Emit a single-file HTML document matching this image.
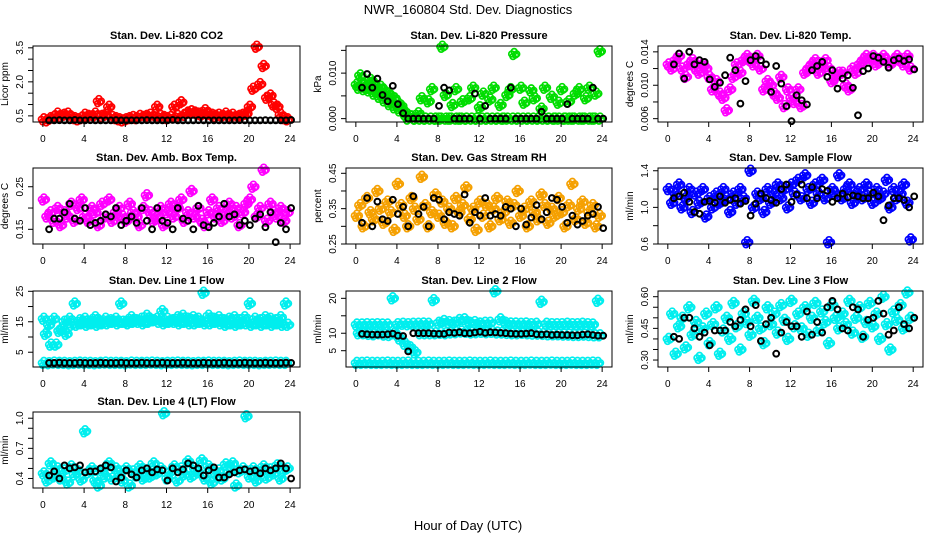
<!DOCTYPE html>
<html><head><meta charset="utf-8"><style>
body{margin:0;background:#fff;}
svg{display:block;font-family:"Liberation Sans",sans-serif;}
</style></head><body>
<svg id="chart" width="936" height="540" viewBox="0 0 936 540">
<rect width="936" height="540" fill="#fff"/>
<text x="468" y="14" text-anchor="middle" font-size="13">NWR_160804  Std. Dev. Diagnostics</text>
<text x="468" y="530" text-anchor="middle" font-size="13">Hour of Day (UTC)</text>
</svg>
<script>
const xTicks=[0,4,8,12,16,20,24];
// CO2
const co2Main=[.35,.3,.4,.45,.6,.5,.55,.6,.45,.4,.35,.4,.55,.5,.45,.6,1.15,.5,.55,.9,.45,.4,.35,.3,.35,.4,.45,.4,.5,.45,.5,.55,.45,.9,.5,.45,.4,.45,.9,.5,1.1,.55,.65,.7,.65,.6,.55,.75,.6,.55,.5,.55,.5,.6,.5,.55,.45,.5,.55,.6,.9,1.7,3.55,1.9,2.7,1.3,1.4,1.0,.9,.55,.4,.35];
const co2Ref=[.3,.3,.31,.3,.3,.32,.3,.3,.31,.3,.3,.3,.3,.31,.3,.3,.3,.3,.3,.31,.3,.3,.3,.3,.32,.3,.3,.3,.3,.31,.3,.3,.3,.3,.3,.3,.3,.31,.3,.3,.3,.3,.31,.3,.3,.3,.3,.32];
// Pressure
const presMain=[.0075,.0095,.0072,.008,.0085,.0078,.0068,.007,.0062,.0055,.005,.0045,.0035,.0028,.0015,.0,.0005,.0,.0012,.0045,.0,.0038,.0065,.0,.0,.0158,.0052,.0,.003,.0065,.0,.0038,.0,.0045,.0068,.0,.0025,.0055,.0,.0042,.0068,.0,.003,.0,.0052,.0065,.0142,.0,.0068,.0035,.0,.0062,.0045,.0,.0022,.0068,.0,.0048,.0,.0035,.0065,.0,.0038,.0,.0055,.0065,.0,.0045,.0068,.0,.0055,.0148];
const presBase=[.0068,.0065,.0062,.0055,.0048,.004,.0032,.0025,.0018,.001,.0005,.0,.0,.0,.0,.0,.0,.0,.0,.0,.0,.0,.0,.0,.0,.0,.0,.0,.0,.0,.0,.0,.0,.0,.0,.0,.0,.0,.0,.0,.0,.0,.0,.0,.0,.0,.0,.0];
const presRef=[.0068,.0098,.0068,.0088,.0052,.0038,.0072,.0032,.0012,.0,.0,.0,.0,.0,.0,.0028,.0068,.0062,.0,.0,.0,.0,.0055,.0,.0028,.0,.0,.0,.0,.0068,.0,.0,.0,.0,.0,.0015,.0,.0,.0,.0,.0032,.0,.0,.0,.0,.0068,.0,.0];
// Li-820 temp
const ltMain=[.0125,.012,.013,.0135,.012,.011,.0125,.013,.012,.0115,.0125,.012,.011,.0095,.0105,.009,.0085,.007,.0095,.011,.0125,.0115,.013,.0135,.013,.0125,.0135,.012,.0095,.0105,.01,.009,.0085,.011,.0075,.0095,.0085,.008,.0095,.0075,.0115,.012,.0125,.013,.0115,.0125,.013,.012,.0105,.011,.0115,.0115,.01,.0095,.012,.0115,.0125,.013,.0135,.013,.0135,.0125,.013,.0135,.013,.0125,.013,.0135,.013,.0125,.0135,.012];
const ltRef=[.0125,.0138,.0108,.014,.0125,.013,.0128,.0107,.0098,.0103,.0112,.0133,.0118,.0078,.0105,.013,.0135,.013,.0125,.0092,.0123,.0102,.0075,.0057,.0088,.0082,.0077,.0118,.0123,.0128,.011,.0118,.0096,.0108,.0112,.0097,.0064,.0117,.012,.0135,.0133,.0128,.0121,.013,.0132,.0129,.0131,.0119];
// Amb box temp
const abMain=[.22,.18,.19,.17,.2,.16,.19,.18,.21,.17,.2,.22,.18,.17,.2,.19,.16,.21,.18,.22,.17,.19,.2,.18,.17,.21,.19,.18,.16,.2,.23,.19,.17,.18,.2,.16,.19,.21,.18,.2,.22,.17,.19,.24,.18,.2,.17,.16,.19,.22,.18,.2,.17,.19,.21,.18,.2,.16,.19,.21,.22,.25,.18,.2,.29,.17,.21,.19,.18,.2,.17,.19];
const abRef=[.15,.175,.175,.19,.21,.175,.17,.2,.16,.165,.17,.185,.18,.2,.16,.17,.18,.165,.2,.17,.15,.2,.17,.165,.15,.2,.175,.17,.15,.205,.16,.155,.165,.18,.21,.18,.185,.16,.17,.16,.175,.185,.155,.19,.12,.165,.15,.2];
// RH
const rhMain=[.33,.36,.3,.38,.34,.32,.4,.35,.31,.37,.34,.29,.42,.36,.33,.3,.38,.35,.32,.44,.36,.3,.34,.39,.33,.37,.31,.35,.3,.38,.34,.36,.41,.32,.35,.29,.37,.33,.36,.3,.35,.38,.32,.34,.37,.31,.36,.4,.33,.35,.3,.37,.34,.32,.39,.36,.31,.35,.33,.38,.34,.3,.36,.42,.32,.35,.37,.31,.34,.36,.3,.33];
const rhRef=[.31,.38,.3,.37,.32,.315,.375,.335,.355,.3,.385,.335,.355,.3,.38,.375,.32,.34,.335,.33,.39,.31,.34,.33,.38,.33,.335,.33,.355,.35,.3,.35,.305,.325,.36,.32,.34,.38,.375,.355,.31,.33,.305,.315,.33,.335,.355,.295];
// Sample flow
const sfMain=[1.2,1.05,1.15,1.25,1.0,1.1,1.2,.95,1.15,1.05,1.2,.9,1.1,1.0,1.15,1.05,1.2,1.1,.95,1.15,1.05,1.2,1.1,.62,1.4,1.0,1.15,1.1,.95,1.2,1.05,1.15,1.25,1.1,1.2,1.0,1.25,1.15,1.3,1.1,1.35,1.2,1.05,1.25,1.15,1.3,1.1,.62,1.2,1.15,1.35,1.1,1.2,1.25,1.05,1.15,1.2,1.1,1.25,1.15,1.05,1.2,1.1,1.15,1.3,1.0,1.2,1.1,1.15,1.25,1.05,.65];
const sfRef=[1.1,1.12,1.16,1.06,.95,.93,1.06,1.07,1.05,1.12,1.05,1.08,1.1,1.04,1.07,.91,1.04,1.15,1.1,1.08,1.05,1.2,1.25,1.06,1.14,1.25,1.1,1.22,1.1,1.2,1.18,1.06,1.1,1.15,1.11,1.13,1.12,1.1,1.1,1.16,1.12,.86,1.02,1.1,1.1,1.08,1.0,1.12];
// Line 1
const l1High=[16,14,16,12,15,16,21,15.5,16,15,16.5,15,16,15.5,16,21,15,16.5,15.5,16,17,15.5,16,18.5,16,15.5,16.5,17,16,16.5,16,24.5,17,16,16.5,15.5,16,16.5,15.5,16.5,21,16,15.5,16.5,16,15.5,16.5,21];
const l1Low=[11,7.5,7.5,12.5,11,14,14,14.5,14,14.5,14,14.5,14.5,15,14.5,15,14.5,15,15,14.5,15,15.5,15,14.5,15,15,14.5,15,14.5,14.5,15,14.5,14.5,15,14.5,14,14.5,14,14.5,14.5,14,14.5,14,14.5,14,14.5,14,14];
const l1Base=[1.5,1.4,1.6,1.5,1.5,1.4,1.5,1.6,1.5,1.5,1.4,1.5,1.6,1.5,1.5,1.5,1.4,1.6,1.5,1.5,1.5,1.6,1.5,1.4,1.5,1.5,1.6,1.5,1.5,1.4,1.5,1.5,1.6,1.5,1.5,1.5,1.4,1.5,1.6,1.5,1.5,1.5,1.4,1.5,1.5,1.6,1.5,1.5];
const l1Ref=[1.5,1.5,1.6,1.5,1.5,1.5,1.6,1.5,1.5,1.5,1.6,1.5,1.5,1.5,1.6,1.5,1.5,1.5,1.6,1.5,1.5,1.5,1.6,1.5,1.5,1.5,1.6,1.5,1.5,1.5,1.6,1.5,1.5,1.5,1.6,1.5,1.5,1.5,1.6,1.5,1.5,1.5,1.6,1.5,1.5,1.5,1.6,1.5];
// Line 2
const l2High=[12.5,12.5,12.6,12.5,12.6,12.5,12.5,20,12.6,12.7,12.6,12.7,12.7,12.8,12.7,19.5,13,13.5,13.2,13,13.8,14,13,13.2,12.8,13,13,22,14,13,12.8,12.8,12.7,12.8,12.6,12.7,19,12.7,12.6,12.6,12.6,12.7,12.6,12.6,12.7,12.6,12.5,19.3];
const l2Mid=[10,10,9.8,9.7,10,9.6,9.5,10,8.5,7,6,4.5,10,10,10,10,10.1,10,10.2,10.3,10.5,10.4,10.2,10.3,10.4,10.3,10.4,10.2,10.2,10.1,10,10,10.1,10,9.9,9.9,9.8,9.7,9.7,9.7,9.6,9.6,9.5,9.5,9.6,9.5,9.4,9.4];
const l2Base=[1.5,1.5,1.6,1.5,1.5,1.5,1.6,1.5,1.5,1.5,1.6,1.5,1.5,1.5,1.6,1.5,1.5,1.5,1.6,1.5,1.5,1.5,1.6,1.5,1.5,1.5,1.6,1.5,1.5,1.5,1.6,1.5,1.5,1.5,1.6,1.5,1.5,1.5,1.6,1.5,1.5,1.5,1.6,1.5,1.5,1.5,1.6,1.5];
const l2Ref=[9.8,9.7,9.6,9.6,9.6,9.7,9.9,9.3,9.2,4.8,10,10,10,10,9.9,9.8,9.8,10.2,10.1,10.3,10,10,10.2,10.4,10.1,10.3,10.2,10.1,10,9.9,9.8,9.8,9.9,10,9.7,9.6,9.7,9.5,9.6,9.5,9.5,9.4,9.4,9.6,9.7,9.5,9.3,9.3];
// Line 3
const l3Main=[.4,.52,.33,.46,.5,.36,.55,.42,.48,.31,.45,.52,.38,.47,.55,.33,.44,.5,.4,.57,.46,.35,.52,.48,.42,.58,.5,.45,.38,.55,.47,.52,.43,.56,.49,.4,.58,.46,.52,.45,.55,.42,.5,.57,.44,.53,.48,.38,.56,.5,.45,.52,.47,.58,.43,.5,.55,.41,.48,.57,.46,.52,.4,.6,.47,.35,.53,.49,.56,.45,.62,.5];
const l3Ref=[.41,.4,.5,.5,.45,.41,.43,.37,.44,.44,.44,.48,.46,.49,.54,.46,.56,.39,.47,.5,.33,.43,.48,.46,.46,.41,.53,.42,.48,.43,.55,.58,.54,.45,.44,.55,.54,.41,.49,.5,.58,.52,.42,.44,.55,.47,.45,.5];
// Line 4
const l4Main=[.45,.38,.55,.42,.5,.4,.48,.36,.52,.44,.47,.39,.87,.46,.5,.38,.33,.48,.42,.55,.4,.5,.45,.38,.5,.33,.47,.43,.52,.4,.48,.42,.55,.45,.5,1.05,.4,.47,.52,.38,.5,.44,.57,.42,.5,.46,.58,.4,.52,.36,.45,.48,.4,.54,.46,.55,.33,.47,.5,1.02,.42,.5,.38,.46,.52,.41,.49,.45,.53,.4,.48,.5];
const l4Ref=[.43,.47,.4,.53,.5,.51,.53,.46,.47,.47,.5,.53,.51,.37,.41,.48,.44,.41,.48,.5,.46,.49,.48,.38,.5,.46,.49,.55,.53,.5,.43,.48,.51,.41,.41,.44,.46,.48,.49,.47,.48,.45,.5,.48,.5,.55,.5,.4];

const NS='http://www.w3.org/2000/svg';
const svg=document.getElementById('chart');
const colL=[33,346,658],colR=[300,612,923],rowT=[46,168,291,412],H=76;
// pixel offsets used to render each sample as a dense smear (styling only)
const smearDx=[-2.5,0,2.5,-1.2,1.2],smearDy=[0,-2.5,0,2.5,1];
function mk(tag,attrs,parent){const e=document.createElementNS(NS,tag);for(const k in attrs)e.setAttribute(k,attrs[k]);(parent||svg).appendChild(e);return e;}
function tTimes(n,off){const a=[];for(let i=0;i<n;i++)a.push(off+i*24/n);return a;}

function panel(o){
  const g=mk('g',{});
  
  
  const L=colL[o.c],R=colR[o.c],T=rowT[o.r],B=T+H;
  const xs=v=>L+(v+0.96)/(25.92)*(R-L);
  const ys=v=>B-(v-o.ymin)/(o.ymax-o.ymin)*H;
  const tt=mk('text',{x:(L+R)/2,y:T-7,'text-anchor':'middle','font-size':11,'font-weight':'bold'},g);
  tt.textContent=o.title;
  
  
  o.series.forEach(s=>{
    const sg=mk('g',{fill:'none',stroke:s.color,'stroke-width':s.sw||1.7},g);
    
    
    const ts=tTimes(s.data.length,s.off||0.1);
    const reps=s.dense?smearDx.length:1;
    s.data.forEach((v,i)=>{
      const cx=xs(ts[i]),cy=ys(v);
      for(let k=0;k<reps;k++){
        const dx=s.dense?smearDx[k]:0,dy=s.dense?smearDy[k]:0;
        const c=mk('circle',{cx:(cx+dx).toFixed(1),cy:(cy+dy).toFixed(1),r:s.rad||2.9},sg);
        
        
      }
    });
  });
  const box=mk('rect',{x:L,y:T,width:R-L,height:H,fill:'none',stroke:'#000','stroke-width':1},g);
  
  
  const xa=mk('g',{},g);
  
  
  mk('line',{x1:xs(0),x2:xs(24),y1:B,y2:B,stroke:'#000'},xa);
  xTicks.forEach(v=>{
    mk('line',{x1:xs(v),x2:xs(v),y1:B,y2:B+5,stroke:'#000'},xa);
    const t=mk('text',{x:xs(v),y:B+20,'text-anchor':'middle','font-size':10},xa);
    t.textContent=v;
    
    
  });
  const ya=mk('g',{},g);
  
  
  o.yt.forEach(v=>mk('line',{x1:L-5,x2:L,y1:ys(v),y2:ys(v),stroke:'#000'},ya));
  o.yl.forEach((lab,i)=>{
    const yy=ys(o.ylv[i]);
    const t=mk('text',{x:L-10,y:yy,'text-anchor':'middle','font-size':10,transform:`rotate(-90 ${L-10} ${yy})`},ya);
    t.textContent=lab;
    
    
  });
  const yt=mk('text',{x:L-25,y:(T+B)/2,'text-anchor':'middle','font-size':10,transform:`rotate(-90 ${L-25} ${(T+B)/2})`},ya);
  yt.textContent=o.ylab;
  
  
}
const MAG='#ff00ff',CY='#00eeee';
panel({name:'co2',c:0,r:0,title:'Stan. Dev. Li-820 CO2',ylab:'Licor ppm',ymin:.23,ymax:3.58,yt:[.5,1,1.5,2,2.5,3,3.5],yl:['0.5','2.0','3.5'],ylv:[.5,2,3.5],
 series:[{id:'main',data:co2Main,color:'#ff0000',dense:true},{id:'ref',data:co2Ref,color:'#000',off:0.6,sw:2}]});
panel({name:'pressure',c:1,r:0,title:'Stan. Dev. Li-820 Pressure',ylab:'kPa',ymin:-.00074,ymax:.01596,yt:[0,.005,.01,.015],yl:['0.000','0.010'],ylv:[0,.01],
 series:[{id:'main',data:presMain,color:'#00dd00',dense:true},{id:'base',data:presBase,color:'#00dd00',off:0.3,dense:true},{id:'ref',data:presRef,color:'#000',off:0.6,sw:2}]});
panel({name:'li820-temp',c:2,r:0,title:'Stan. Dev. Li-820 Temp.',ylab:'degrees C',ymin:.0056,ymax:.0147,yt:[.006,.008,.01,.012,.014],yl:['0.006','0.010','0.014'],ylv:[.006,.01,.014],
 series:[{id:'main',data:ltMain,color:MAG,dense:true},{id:'ref',data:ltRef,color:'#000',off:0.6,sw:2}]});
panel({name:'amb-box-temp',c:0,r:1,title:'Stan. Dev. Amb. Box Temp.',ylab:'degrees C',ymin:.1155,ymax:.294,yt:[.15,.2,.25],yl:['0.15','0.25'],ylv:[.15,.25],
 series:[{id:'main',data:abMain,color:MAG,dense:true},{id:'ref',data:abRef,color:'#000',off:0.6,sw:2}]});
panel({name:'gas-rh',c:1,r:1,title:'Stan. Dev. Gas Stream RH',ylab:'percent',ymin:.25,ymax:.465,yt:[.25,.3,.35,.4,.45],yl:['0.25','0.35','0.45'],ylv:[.25,.35,.45],
 series:[{id:'main',data:rhMain,color:'#f5a000',dense:true},{id:'ref',data:rhRef,color:'#000',off:0.6,sw:2}]});
panel({name:'sample-flow',c:2,r:1,title:'Stan. Dev. Sample Flow',ylab:'ml/min',ymin:.6,ymax:1.43,yt:[.6,.8,1,1.2,1.4],yl:['0.6','1.0','1.4'],ylv:[.6,1,1.4],
 series:[{id:'main',data:sfMain,color:'#0000ff',dense:true},{id:'ref',data:sfRef,color:'#000',off:0.6,sw:2}]});
panel({name:'line1-flow',c:0,r:2,title:'Stan. Dev. Line 1 Flow',ylab:'ml/min',ymin:.15,ymax:25.1,yt:[5,10,15,20,25],yl:['5','15','25'],ylv:[5,15,25],
 series:[{id:'high',data:l1High,color:CY,dense:true},{id:'low',data:l1Low,color:CY,off:0.3,dense:true},{id:'base',data:l1Base,color:CY,dense:true},{id:'ref',data:l1Ref,color:'#000',off:0.6,sw:2}]});
panel({name:'line2-flow',c:1,r:2,title:'Stan. Dev. Line 2 Flow',ylab:'ml/min',ymin:.33,ymax:22.1,yt:[5,10,15,20],yl:['5','10','20'],ylv:[5,10,20],
 series:[{id:'high',data:l2High,color:CY,dense:true},{id:'mid',data:l2Mid,color:CY,off:0.3,dense:true},{id:'base',data:l2Base,color:CY,dense:true},{id:'ref',data:l2Ref,color:'#000',off:0.6,sw:2}]});
panel({name:'line3-flow',c:2,r:2,title:'Stan. Dev. Line 3 Flow',ylab:'ml/min',ymin:.267,ymax:.627,yt:[.3,.35,.4,.45,.5,.55,.6],yl:['0.30','0.45','0.60'],ylv:[.3,.45,.6],
 series:[{id:'main',data:l3Main,color:CY,dense:true},{id:'ref',data:l3Ref,color:'#000',off:0.6,sw:2}]});
panel({name:'line4-flow',c:0,r:3,title:'Stan. Dev. Line 4 (LT) Flow',ylab:'ml/min',ymin:.305,ymax:1.062,yt:[.4,.5,.6,.7,.8,.9,1],yl:['0.4','0.7','1.0'],ylv:[.4,.7,1],
 series:[{id:'main',data:l4Main,color:CY,dense:true},{id:'ref',data:l4Ref,color:'#000',off:0.6,sw:2}]});
</script>
</body></html>
